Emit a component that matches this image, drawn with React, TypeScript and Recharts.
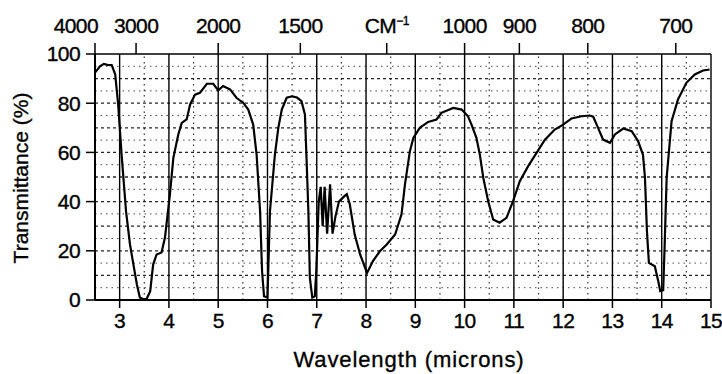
import React from 'react';
import { LineChart, Line, XAxis, YAxis, ReferenceLine, Label } from 'recharts';

// wavelength (microns) and % transmittance
const wavelength = [
  2.5, 2.6, 2.68, 2.75, 2.84, 2.91, 2.97, 3.04, 3.13, 3.21, 3.28, 3.35, 3.41, 3.48, 3.55, 3.62, 3.68, 3.75, 3.85, 3.92,
  4.02, 4.09, 4.19, 4.26, 4.36, 4.43, 4.53, 4.63, 4.77, 4.9, 5.0, 5.1, 5.24, 5.37, 5.51, 5.61, 5.71, 5.78, 5.85, 5.89,
  5.93, 6.0, 6.05, 6.15, 6.22, 6.29, 6.39, 6.5, 6.6, 6.69, 6.76, 6.79, 6.83, 6.86, 6.91, 6.96, 6.99, 7.04, 7.08, 7.12,
  7.16, 7.21, 7.27, 7.32, 7.38, 7.45, 7.55, 7.61, 7.67, 7.77, 7.88, 8.02, 8.14, 8.28, 8.42, 8.59, 8.72, 8.79, 8.89, 8.96,
  9.09, 9.26, 9.43, 9.53, 9.77, 9.94, 10.07, 10.14, 10.24, 10.31, 10.38, 10.48, 10.58, 10.71, 10.85, 10.98, 11.12, 11.29, 11.46, 11.63,
  11.83, 12.0, 12.17, 12.37, 12.54, 12.61, 12.68, 12.81, 12.95, 13.05, 13.22, 13.39, 13.52, 13.62, 13.66, 13.7, 13.74, 13.86, 13.93, 13.97,
  14.03, 14.06, 14.1, 14.2, 14.33, 14.5, 14.67, 14.84, 14.97,
];
const transmittance = [
  92.4, 95, 96, 95.6, 95.5, 91.7, 79.5, 59, 36, 22.6, 14.4, 6.3, 1, 0.3, 0.5, 3.6, 14.4, 18.5, 19.3, 25.4,
  42.9, 57.8, 67.3, 72, 73.4, 79.5, 83.5, 84.2, 87.9, 87.9, 85.2, 87, 85.6, 82.2, 80.1, 77.4, 71.3, 59, 36, 11.7,
  1.5, 1, 36, 59, 70, 77.4, 82.2, 82.8, 82.3, 80.8, 75.4, 59, 36, 9, 1, 1.5, 11.7, 40, 46, 30,
  46, 27, 47, 27, 34, 40, 42, 43, 38.9, 26.6, 18.5, 11, 15.8, 19.8, 22.6, 26.6, 34.8, 47, 60.5, 65.9,
  70, 72.4, 73.4, 76.1, 78.1, 77.4, 74.7, 71.3, 65.9, 59, 49.6, 40, 32.7, 31.4, 33.4, 40, 48.3, 54.4, 59.8, 65.2,
  69.3, 71.3, 73.8, 74.7, 75, 74.5, 71.3, 65.2, 63.9, 67.3, 69.7, 68.6, 64.6, 59, 49.7, 28, 15.1, 13.7, 7.6, 3.6,
  4, 22.6, 49.7, 72.7, 81.5, 88.3, 91.7, 93.3, 93.7,
];

const micronTicks = [3, 4, 5, 6, 7, 8, 9, 10, 11, 12, 13, 14, 15];
const halfMicrons = [3.5, 4.5, 5.5, 6.5, 7.5, 8.5, 9.5, 10.5, 11.5, 12.5, 13.5, 14.5];
const percentTicks = [0, 20, 40, 60, 80, 100];
const percentGrid = [5, 10, 15, 20, 25, 30, 35, 40, 45, 50, 55, 60, 65, 70, 75, 80, 85, 90, 95];

// top scale: wavenumbers, placed at 10000 / cm-1
const topTickLabels = ['4000', '3000', '2000', '1500', 'CM-1', '1000', '900', '800', '700'];
const topTickMicrons = [2.5, 10000 / 3000, 5, 10000 / 1500, 8.42, 10, 10000 / 900, 12.5, 10000 / 700];

const data = wavelength.map((x, i) => ({ x, t: transmittance[i] }));

const FONT = '"Liberation Sans", Arial, Helvetica, sans-serif';
const inkText = { fill: '#000', stroke: '#000', strokeWidth: 0.35, fontFamily: FONT };

const TopTick = (props: any) => {
  const { x, y, payload } = props;
  let idx = 0;
  topTickMicrons.forEach((v, i) => {
    if (Math.abs(v - payload.value) < Math.abs(topTickMicrons[idx] - payload.value)) idx = i;
  });
  const label = topTickLabels[idx];
  const first = idx === 0;
  return (
    <text
      x={first ? x + 3 : x}
      y={y - 10}
      textAnchor={first ? 'end' : 'middle'}
      fontSize={21}
      letterSpacing={-0.6}
      {...inkText}
    >
      {label === 'CM-1' ? (
        <>
          CM<tspan fontSize={12} dy={-8}>−1</tspan>
        </>
      ) : (
        label
      )}
    </text>
  );
};

export default function App() {
  return (
    <div style={{ position: 'absolute', left: 0, top: 0, width: 722, height: 374, background: '#fff' }}>
      <LineChart width={722} height={374} data={data} margin={{ top: 24, right: 11, bottom: 0, left: 0 }}>
        <XAxis
          dataKey="x"
          type="number"
          domain={[2.5, 15]}
          ticks={micronTicks}
          interval={0}
          allowDataOverflow
          height={74}
          tickSize={8}
          tickMargin={5}
          axisLine={{ stroke: '#000', strokeWidth: 2 }}
          tickLine={{ stroke: '#000', strokeWidth: 1.5 }}
          tick={{ ...inkText, fontSize: 21, letterSpacing: -0.6 }}
        >
          <Label
            content={(p: any) => {
              const vb = p.viewBox;
              return (
                <text x={vb.x + vb.width / 2 + 6} y={vb.y + 67} textAnchor="middle" fontSize={22} letterSpacing={0.9} {...inkText}>
                  Wavelength (microns)
                </text>
              );
            }}
          />
        </XAxis>
        <XAxis
          xAxisId="top"
          orientation="top"
          dataKey="x"
          type="number"
          domain={[2.5, 15]}
          ticks={topTickMicrons}
          interval={0}
          allowDataOverflow
          height={30}
          tickSize={11}
          tickMargin={0}
          axisLine={false}
          tickLine={{ stroke: '#000', strokeWidth: 1.5 }}
          tick={<TopTick />}
        />
        <YAxis
          type="number"
          domain={[0, 100]}
          ticks={percentTicks}
          interval={0}
          width={95}
          tickSize={9}
          tickMargin={6}
          axisLine={{ stroke: '#000', strokeWidth: 2 }}
          tickLine={{ stroke: '#000', strokeWidth: 1.5 }}
          tick={{ ...inkText, fontSize: 21, letterSpacing: -0.6 }}
        >
          <Label
            content={(p: any) => {
              const vb = p.viewBox;
              const cx = 28;
              const cy = vb.y + vb.height / 2 + 1;
              return (
                <text x={cx} y={cy} transform={`rotate(-90, ${cx}, ${cy})`} textAnchor="middle" fontSize={21} {...inkText}>
                  Transmittance (%)
                </text>
              );
            }}
          />
        </YAxis>
        {percentGrid.map((v) => (
          <ReferenceLine
            key={'h' + v}
            y={v}
            stroke="#000"
            strokeWidth={v % 10 === 0 ? 1.3 : 1}
            strokeDasharray={v % 10 === 0 ? '3 3' : '1.5 4'}
            strokeOpacity={v % 10 === 0 ? 0.85 : 0.7}
          />
        ))}
        {halfMicrons.map((v) => (
          <ReferenceLine key={'hv' + v} x={v} stroke="#000" strokeWidth={1.2} strokeDasharray="1.5 4" strokeOpacity={0.8} />
        ))}
        {micronTicks.map((v) => (
          <ReferenceLine key={'v' + v} x={v} stroke="#000" strokeWidth={1.4} />
        ))}
        <ReferenceLine y={100} stroke="#000" strokeWidth={1.5} />
        <Line
          type="linear"
          dataKey="t"
          stroke="#000"
          strokeWidth={2.2}
          dot={false}
          isAnimationActive={false}
        />
      </LineChart>
    </div>
  );
}
